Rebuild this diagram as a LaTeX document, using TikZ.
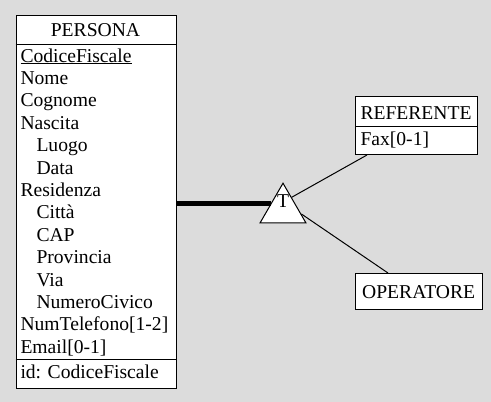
\documentclass[tikz,border=0pt]{standalone}
\usepackage{fontspec}
\setmainfont{Liberation Serif}
\newfontfamily\erfont{Liberation Serif}
\usetikzlibrary{shapes.geometric}
\definecolor{sfondo}{RGB}{220,220,220}

\begin{document}
\begin{tikzpicture}[x=1pt, y=-1pt, line width=1pt, font=\erfont\fontsize{19.6}{22}\selectfont,
    entity/.style={draw, fill=white, inner sep=0pt, anchor=north west},
    attr/.style={anchor=base west, inner sep=0pt}]
    \fill[sfondo] (0,0) rectangle (491,402);
    \useasboundingbox (0,0) rectangle (491,402);

    % entita' PERSONA
    \node[entity, minimum width=160pt, minimum height=373pt] (persona) at (15.5,15) {};
    \node[anchor=base, inner sep=0pt] (personaT) at (95.5,36.7) {PERSONA};
    \draw (persona.west |- 0,44) -- (persona.east |- 0,44);
    \foreach \a/\ind [count=\i from 0] in {{\underline{CodiceFiscale}}/0, Nome/0, Cognome/0,
        Nascita/0, Luogo/1, Data/1, Residenza/0, Città/1, CAP/1, Provincia/1, Via/1,
        NumeroCivico/1, NumTelefono[1-2]/0, Email[0-1]/0} {
        \node[attr] (a\i) at ({20+16*\ind}, {62+22.4*\i}) {\a};
    }
    \draw (persona.west |- 0,359) -- (persona.east |- 0,359);
    \node[attr] (personaId) at (20,378) {id: CodiceFiscale};

    % entita' REFERENTE
    \node[entity, minimum width=122pt, minimum height=58pt] (referente) at (355,96) {};
    \node[attr] (referenteT) at (360,119.3) {REFERENTE};
    \draw (referente.west |- 0,126) -- (referente.east |- 0,126);
    \node[attr] (referenteFax) at (360,145.3) {Fax[0-1]};

    % entita' OPERATORE
    \node[entity, minimum width=127pt, minimum height=36pt] (operatore) at (355,273) {};
    \node[attr] (operatoreT) at (361.7,298.3) {OPERATORE};

    % generalizzazione totale
    \node[draw, fill=white, regular polygon, regular polygon sides=3, minimum size=53pt,
        inner sep=0pt] (gerarchia) at (283,209.7) {};
    \node[inner sep=0pt] (gerarchiaT) at (283,201.5) {T};

    \draw[line width=5pt] (persona.east |- gerarchia.151) -- (gerarchia.151);
    \draw (gerarchia.55) -- ([xshift=12pt]referente.south west);
    \draw (gerarchia.-13) -- ([xshift=33pt]operatore.north west);
\end{tikzpicture}
\end{document}
